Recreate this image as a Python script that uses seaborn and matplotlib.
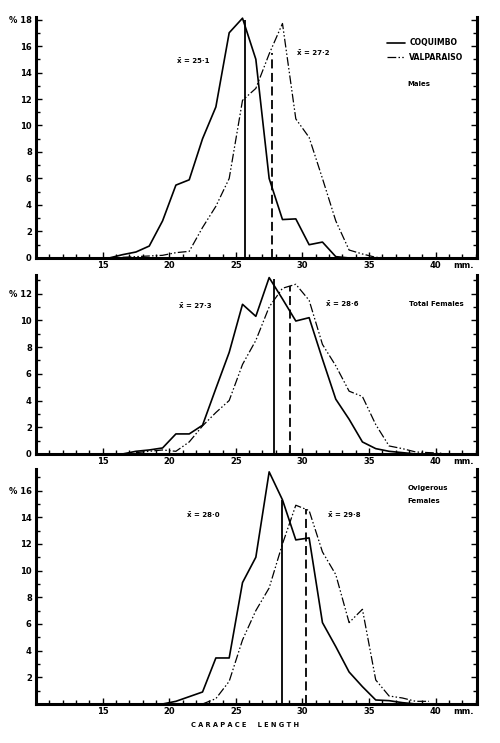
import numpy as np
import pandas as pd
import matplotlib
matplotlib.use("Agg")
import matplotlib.pyplot as plt
import seaborn as sns

# size classes (mm, class midpoints) and percentages
males_coq_x = [15.5, 16.5, 17.5, 18.5, 19.5, 20.5, 21.5, 22.5, 23.5, 24.5, 25.5, 26.5, 27.5, 28.5, 29.5, 30.5, 31.5, 32.5, 33.5]
males_coq_y = [0, 0.25, 0.45, 0.9, 2.8, 5.5, 5.9, 9.0, 11.4, 17.0, 18.1, 15.0, 6.0, 2.9, 2.95, 1.0, 1.2, 0.1, 0]
males_val_x = [16.5, 17.5, 18.5, 19.5, 20.5, 21.5, 22.5, 23.5, 24.5, 25.5, 26.5, 27.5, 28.5, 29.5, 30.5, 31.5, 32.5, 33.5, 34.5, 35.5, 36.5]
males_val_y = [0.05, 0.1, 0.15, 0.2, 0.4, 0.5, 2.3, 3.9, 6.0, 11.9, 12.8, 15.4, 17.7, 10.5, 9.1, 6.0, 2.8, 0.6, 0.3, 0.05, 0]

fem_coq_x = [16.5, 17.5, 18.5, 19.5, 20.5, 21.5, 22.5, 23.5, 24.5, 25.5, 26.5, 27.5, 28.5, 29.5, 30.5, 31.5, 32.5, 33.5, 34.5, 35.5, 36.5, 37.5, 38.5]
fem_coq_y = [0, 0.2, 0.3, 0.45, 1.5, 1.5, 2.15, 4.9, 7.6, 11.2, 10.3, 13.2, 11.6, 9.95, 10.2, 7.1, 4.1, 2.6, 0.9, 0.4, 0.2, 0.1, 0]
fem_val_x = [17.5, 18.5, 19.5, 20.5, 21.5, 22.5, 23.5, 24.5, 25.5, 26.5, 27.5, 28.5, 29.5, 30.5, 31.5, 32.5, 33.5, 34.5, 35.5, 36.5, 37.5, 38.5, 39.5, 40.5]
fem_val_y = [0.1, 0.2, 0.3, 0.2, 0.9, 2.1, 3.1, 4.0, 6.7, 8.5, 11.0, 12.4, 12.7, 11.5, 8.2, 6.6, 4.7, 4.3, 2.2, 0.6, 0.4, 0.15, 0.1, 0.05]

ovi_coq_x = [19.5, 20.5, 21.5, 22.5, 23.5, 24.5, 25.5, 26.5, 27.5, 28.5, 29.5, 30.5, 31.5, 32.5, 33.5, 34.5, 35.5, 36.5, 37.5, 38.5]
ovi_coq_y = [0, 0.2, 0.55, 0.9, 3.45, 3.45, 9.1, 11.0, 17.4, 15.3, 12.3, 12.45, 6.1, 4.3, 2.4, 1.3, 0.3, 0.25, 0.1, 0]
ovi_val_x = [22.5, 23.5, 24.5, 25.5, 26.5, 27.5, 28.5, 29.5, 30.5, 31.5, 32.5, 33.5, 34.5, 35.5, 36.5, 37.5, 38.5, 39.5]
ovi_val_y = [0, 0.4, 1.7, 4.8, 7.0, 8.7, 12.0, 14.9, 14.5, 11.4, 9.7, 6.1, 7.1, 1.8, 0.6, 0.45, 0.2, 0.2]

# mean lines: position and height where drawn (Coquimbo, Valparaiso)
mean_x = [[25.7, 27.7], [27.9, 29.1], [28.45, 30.25]]
mean_top = [[18.0, 15.5], [13.1, 12.6], [15.3, 14.6]]
mean_text = [["x\u0304 = 25\u00b71", "x\u0304 = 27\u00b72"],
             ["x\u0304 = 27\u00b73", "x\u0304 = 28\u00b76"],
             ["x\u0304 = 28\u00b70", "x\u0304 = 29\u00b78"]]
mean_text_pos = [[(20.6, 14.9), (29.6, 15.5)], [(20.7, 11.1), (31.8, 11.25)], [(21.3, 14.2), (31.9, 14.2)]]

panel_names = ["Males", "Total Females", "Ovigerous\nFemales"]
panel_name_pos = [(37.9, 13.1), (38.0, 11.25), (37.9, 15.7)]
ylims = [18.2, 13.4, 17.6]
ylabels_top = [18, 12, 16]

sns.set_style("ticks")
plt.rcParams['font.family'] = ['DejaVu Sans']
plt.rcParams['font.weight'] = 'bold'
plt.rcParams['text.color'] = 'black'
plt.rcParams['xtick.color'] = 'black'
plt.rcParams['ytick.color'] = 'black'
plt.rcParams['axes.edgecolor'] = 'black'

val_style = (0, (7, 1.8, 1.2, 1.8, 1.2, 1.8))

fig = plt.figure(figsize=(5, 7.43), dpi=100)
boxes = [[0.072, 0.6528, 0.882, 0.3245],
         [0.072, 0.389, 0.882, 0.241],
         [0.072, 0.0525, 0.882, 0.316]]

series = [(males_coq_x, males_coq_y, males_val_x, males_val_y),
          (fem_coq_x, fem_coq_y, fem_val_x, fem_val_y),
          (ovi_coq_x, ovi_coq_y, ovi_val_x, ovi_val_y)]

for i in range(3):
    ax = fig.add_axes(boxes[i])
    cx, cy, vx, vy = series[i]
    sns.lineplot(x=cx, y=cy, ax=ax, color='black', lw=1.2, label='COQUIMBO')
    sns.lineplot(x=vx, y=vy, ax=ax, color='black', lw=0.9, linestyle=val_style, label='VALPARAISO')
    ax.vlines(mean_x[i][0], 0, mean_top[i][0], color='black', lw=1.3)
    ax.vlines(mean_x[i][1], 0, mean_top[i][1], color='black', lw=1.3, linestyles=(0, (5, 2.5)))
    for t, (tx, ty) in zip(mean_text[i], mean_text_pos[i]):
        ax.text(tx, ty, t, fontsize=5, fontweight='bold', va='center', ha='left')
    nx, ny = panel_name_pos[i]
    ax.text(nx, ny, panel_names[i], fontsize=5, fontweight='bold', va='center', ha='left', linespacing=2.3)

    ax.set_xlim(10, 43.1)
    ax.set_ylim(0, ylims[i])
    ax.set_xticks([15, 20, 25, 30, 35, 40])
    ax.set_xticks(np.arange(11, 44, 1), minor=True)
    ax.set_xticklabels(['15', '20', '25', '30', '35', '40'], fontsize=6, fontweight='bold')
    ymaj = np.arange(0, ylabels_top[i] + 1, 2)
    ax.set_yticks(ymaj)
    ax.set_yticks(np.arange(0, int(ylims[i]) + 1, 1), minor=True)
    ylab = [str(v) for v in ymaj]
    ylab[-1] = '% ' + ylab[-1]
    if i == 2:
        ylab[0] = ''
    ax.set_yticklabels(ylab, fontsize=6, fontweight='bold')
    ax.tick_params(axis='both', which='both', direction='in', width=1.0, pad=3)
    ax.tick_params(axis='y', which='both', right=True, labelright=False)
    ax.tick_params(which='major', length=4)
    ax.tick_params(which='minor', length=3)
    ax.tick_params(axis='x', pad=2)
    ax.annotate('mm.', xy=(41.3, 0), xycoords=('data', 'axes fraction'), xytext=(0, -2.5),
                textcoords='offset points', fontsize=6, fontweight='bold', va='top', ha='left')
    ax.spines['top'].set_visible(False)
    for s in ['left', 'right', 'bottom']:
        ax.spines[s].set_linewidth(2.2)
    ax.set_xlabel('')
    ax.set_ylabel('')
    if i == 0:
        ax.legend(loc='upper right', bbox_to_anchor=(0.985, 0.94), frameon=False, fontsize=5.6,
                  handlelength=2.4, handletextpad=0.5, labelspacing=0.75)
    else:
        ax.get_legend().remove()

fig.text(245 / 500, 1 - 725 / 743, 'C A R A P A C E     L E N G T H', fontsize=4.8,
         fontweight='bold', ha='center', va='center')

plt.savefig('out.png', dpi=100)
